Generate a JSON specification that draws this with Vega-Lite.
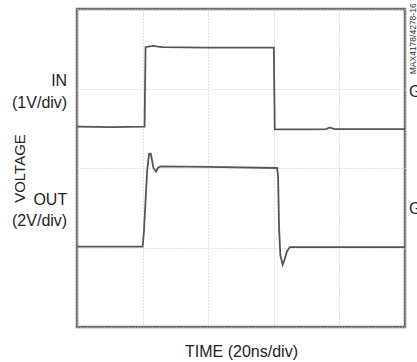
{
  "$schema": "https://vega.github.io/schema/vega-lite/v6.json",
  "width": 328,
  "height": 318,
  "autosize": {"type": "none"},
  "padding": {"left": 77, "top": 9, "right": 12, "bottom": 35},
  "background": "white",
  "config": {
    "view": {"stroke": "#707070", "strokeWidth": 2.5},
    "font": "Liberation Sans"
  },
  "datasets": {
    "traces": [
      {"trace": "IN", "t": 0, "v": 5.04},
      {"trace": "IN", "t": 1.0, "v": 5.03},
      {"trace": "IN", "t": 2.06, "v": 5.04},
      {"trace": "IN", "t": 2.09, "v": 7.04},
      {"trace": "IN", "t": 2.3, "v": 7.07},
      {"trace": "IN", "t": 2.6, "v": 7.04},
      {"trace": "IN", "t": 4.0, "v": 7.03},
      {"trace": "IN", "t": 6.0, "v": 7.03},
      {"trace": "IN", "t": 6.03, "v": 4.97},
      {"trace": "IN", "t": 7.0, "v": 4.97},
      {"trace": "IN", "t": 7.6, "v": 4.98},
      {"trace": "IN", "t": 7.7, "v": 5.02},
      {"trace": "IN", "t": 7.85, "v": 4.98},
      {"trace": "IN", "t": 10, "v": 4.98},
      {"trace": "OUT", "t": 0, "v": 2.02},
      {"trace": "OUT", "t": 2.0, "v": 2.02},
      {"trace": "OUT", "t": 2.04, "v": 2.4},
      {"trace": "OUT", "t": 2.14, "v": 3.95},
      {"trace": "OUT", "t": 2.2, "v": 4.36},
      {"trace": "OUT", "t": 2.25, "v": 4.36},
      {"trace": "OUT", "t": 2.33, "v": 4.0},
      {"trace": "OUT", "t": 2.41, "v": 3.91},
      {"trace": "OUT", "t": 2.47, "v": 4.01},
      {"trace": "OUT", "t": 2.55, "v": 4.04},
      {"trace": "OUT", "t": 4.0, "v": 4.03},
      {"trace": "OUT", "t": 6.1, "v": 4.0},
      {"trace": "OUT", "t": 6.13, "v": 3.8},
      {"trace": "OUT", "t": 6.16, "v": 2.5},
      {"trace": "OUT", "t": 6.2, "v": 1.8},
      {"trace": "OUT", "t": 6.27, "v": 1.57},
      {"trace": "OUT", "t": 6.31, "v": 1.65},
      {"trace": "OUT", "t": 6.4, "v": 1.9},
      {"trace": "OUT", "t": 6.49, "v": 2.01},
      {"trace": "OUT", "t": 10, "v": 2.01}
    ],
    "leftLabels": [
      {"t": -0.3, "v": 6.2, "label": "IN"},
      {"t": -0.3, "v": 5.64, "label": "(1V/div)"},
      {"t": -0.3, "v": 3.2, "label": "OUT"},
      {"t": -0.3, "v": 2.66, "label": "(2V/div)"}
    ],
    "gndLabels": [
      {"t": 10.12, "v": 5.91, "label": "GND"},
      {"t": 10.12, "v": 2.97, "label": "GND"}
    ],
    "partLabel": [
      {"t": 10.24, "v": 7.25, "label": "MAX4178/4278-16"}
    ]
  },
  "layer": [
    {
      "data": {"name": "traces"},
      "mark": {"type": "line", "color": "#555555", "strokeWidth": 1.8, "clip": true},
      "encoding": {
        "x": {
          "field": "t", "type": "quantitative",
          "scale": {"domain": [0, 10], "nice": false, "zero": false},
          "axis": {
            "orient": "bottom",
            "values": [0, 1, 2, 3, 4, 5, 6, 7, 8, 9, 10],
            "grid": true, "gridColor": "#c4c4c4", "gridDash": [1, 2], "gridWidth": 1,
            "labels": false, "ticks": false, "domain": false,
            "title": "TIME (20ns/div)", "titleFontSize": 16, "titleFontWeight": "normal",
            "titleColor": "#222", "titlePadding": 16, "titleFont": "Liberation Sans"
          }
        },
        "y": {
          "field": "v", "type": "quantitative",
          "scale": {"domain": [0, 8], "nice": false, "zero": false},
          "axis": {
            "orient": "left",
            "values": [0, 1, 2, 3, 4, 5, 6, 7, 8],
            "grid": true, "gridColor": "#c4c4c4", "gridDash": [1, 2], "gridWidth": 1,
            "labels": false, "ticks": false, "domain": false,
            "title": "VOLTAGE", "titleFontSize": 15, "titleFontWeight": "normal",
            "titleColor": "#222", "titlePadding": 50, "titleFont": "Liberation Sans"
          }
        },
        "detail": {"field": "trace"}
      }
    },
    {
      "data": {"name": "leftLabels"},
      "mark": {"type": "text", "align": "right", "baseline": "middle", "fontSize": 16, "color": "#222"},
      "encoding": {
        "x": {"field": "t", "type": "quantitative"},
        "y": {"field": "v", "type": "quantitative"},
        "text": {"field": "label"}
      }
    },
    {
      "data": {"name": "gndLabels"},
      "mark": {"type": "text", "align": "left", "baseline": "middle", "fontSize": 16, "color": "#222"},
      "encoding": {
        "x": {"field": "t", "type": "quantitative"},
        "y": {"field": "v", "type": "quantitative"},
        "text": {"field": "label"}
      }
    },
    {
      "data": {"name": "partLabel"},
      "mark": {"type": "text", "align": "center", "baseline": "middle", "angle": 270, "fontSize": 8.5, "color": "#333"},
      "encoding": {
        "x": {"field": "t", "type": "quantitative"},
        "y": {"field": "v", "type": "quantitative"},
        "text": {"field": "label"}
      }
    }
  ]
}
